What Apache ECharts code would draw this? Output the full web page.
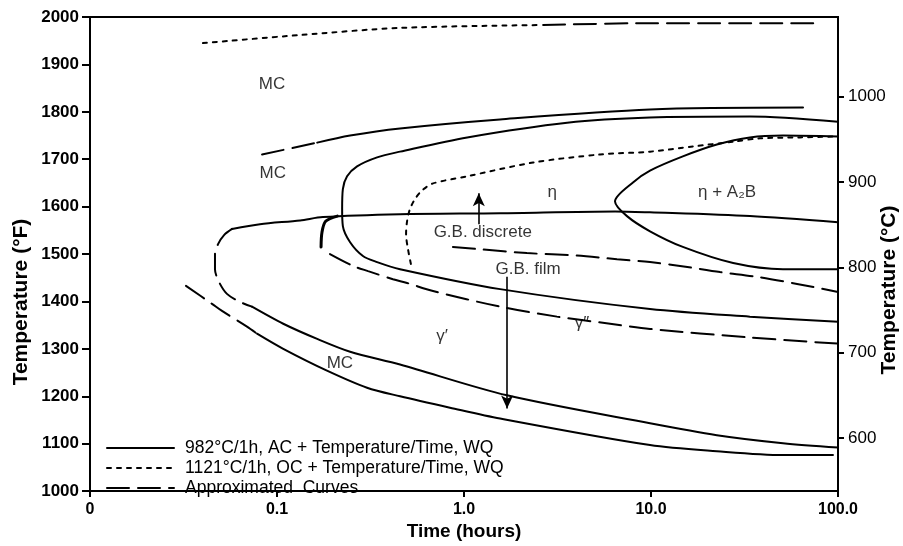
<!DOCTYPE html>
<html>
<head>
<meta charset="utf-8">
<script src="https://cdn.jsdelivr.net/npm/echarts@6/dist/echarts.min.js"></script>
<style>html,body{margin:0;padding:0;background:#fff;}#c{width:903px;height:546px;}</style>
</head>
<body>
<div id="c"></div>
<script>
// ---- axis ticks ----
const timeTicks = [0.01, 0.1, 1, 10, 100];
const timeTickLabels = ['0', '0.1', '1.0', '10.0', '100.0'];
const tempFMin = 1000, tempFMax = 2000, tempFStep = 100;
const tempCTicks = [600, 700, 800, 900, 1000];

// ---- legend names ----
const nameSolid = '982°C/1h, AC + Temperature/Time, WQ';
const nameDotted = '1121°C/1h, OC + Temperature/Time, WQ';
const nameDashed = 'Approximated  Curves';

// ---- solid curves [time h, temperature °F] ----
const solidTopMC = [[0.164,1735],[0.246,1750],[0.455,1765],[1.557,1784],[9.88,1805],[65,1809]];
const solidC = [[100,1779],[33.8,1790],[9.88,1788],[3.56,1777],[1.04,1746],[0.455,1716],[0.343,1704],[0.268,1685],[0.237,1664],[0.225,1637],[0.223,1595],[0.225,1559],[0.246,1525],[0.288,1496],[0.343,1483],[0.455,1468],[1.56,1426],[9.88,1384],[33.8,1368],[100,1357]];
const solidMid = [[0.0575,1553],[0.0811,1563],[0.133,1571],[0.176,1578],[0.455,1584],[1.56,1586],[6.42,1590],[9.88,1588],[33.8,1580],[100,1567]];
const solidEta = [[100,1748],[50.8,1750],[33.8,1746],[22.5,1731],[14.8,1706],[9.88,1676],[8.01,1651],[6.42,1611],[7.44,1580],[9.88,1548],[14.8,1515],[27.5,1481],[50.8,1468],[100,1468]];
const solidGammaP = [[0.0735,1389],[0.108,1353],[0.164,1321],[0.246,1294],[0.455,1267],[1.70,1202],[9.88,1143],[22.5,1118],[50.8,1101],[100,1092]];
const solidMCLow = [[0.0782,1332],[0.108,1300],[0.185,1254],[0.303,1218],[0.455,1200],[0.841,1176],[1.56,1153],[9.88,1097],[22.5,1084],[50.8,1076],[94,1076]];
const solidHook = [[0.172,1515],[0.174,1546],[0.182,1569],[0.21,1580]];

// ---- dotted curves ----
const dottedTop = [[0.0402,1945],[0.133,1962],[0.455,1977],[2.55,1983]];
const dottedC = [[0.52,1479],[0.502,1510],[0.49,1542],[0.496,1569],[0.514,1595],[0.547,1616],[0.596,1634],[0.683,1649],[1.04,1664],[2.34,1693],[5.34,1710],[9.88,1716],[16.8,1727],[27.5,1737],[38.3,1744],[62.6,1746],[100,1748]];

// ---- dashed (approximated) curves ----
const dashedTop = [[2.65,1983],[9.88,1987],[78.2,1987]];
const dashedMCUp = [[0.0832,1710],[0.164,1735]];
const dashedCUp = [[0.0575,1553],[0.0521,1540],[0.0484,1521],[0.0466,1500],[0.0466,1468],[0.049,1441],[0.054,1416],[0.0634,1399],[0.0735,1389]];
const dashedMCLow = [[0.0326,1433],[0.0449,1395],[0.0508,1380],[0.0691,1347],[0.0782,1332]];
const dashedGammaDP = [[0.192,1500],[0.255,1475],[0.307,1464],[0.417,1447],[0.496,1439],[0.683,1422],[1.56,1389],[3.14,1368],[6.04,1353],[9.88,1342],[33.8,1324],[100,1311]];
const dashedFilm = [[0.873,1515],[1.22,1510],[2.17,1502],[4.02,1497],[6.58,1489],[9.88,1483],[14.3,1475],[23.4,1462],[36.9,1452],[60.4,1437],[100,1420]];

// ---- annotations [text, time, °F] ----
const labelTexts = ['MC', 'MC', 'η', 'η + A₂B', 'G.B. discrete', 'G.B. film', 'γ′', 'γ″', 'MC'];
const labelTimes = [0.094, 0.095, 2.96, 25.5, 1.26, 2.2, 0.763, 4.28, 0.217];
const labelTemps = [1857, 1670, 1630, 1630, 1546, 1468, 1326, 1353, 1269];

// ---- arrows [time, fromF, toF] ----
const arrowDiscrete = [1.2, 1563, 1628];
const arrowFilm = [1.7, 1452, 1174];

const FONT = '"Liberation Sans", Arial, Helvetica, sans-serif';
const chart = echarts.init(document.getElementById('c'), null, {renderer: 'canvas'});

function lineSeries(name, data, type, width) {
  return {
    name: name, type: 'line', data: data, symbol: 'none', smooth: 0.3,
    xAxisIndex: 0, yAxisIndex: 0, silent: true, z: 3, color: '#000',
    lineStyle: {color: '#000', width: width || 2, type: type, cap: 'round'},
    emphasis: {disabled: true}
  };
}
const DASH = [22, 9];
const DOT = [4, 6];

const series = [
  lineSeries(nameSolid, solidTopMC, 'solid'),
  lineSeries(nameSolid, solidC, 'solid'),
  lineSeries(nameSolid, solidMid, 'solid'),
  lineSeries(nameSolid, solidEta, 'solid'),
  lineSeries(nameSolid, solidGammaP, 'solid'),
  lineSeries(nameSolid, solidMCLow, 'solid'),
  lineSeries(nameSolid, solidHook, 'solid', 3),
  lineSeries(nameDotted, dottedTop, DOT),
  lineSeries(nameDotted, dottedC, DOT),
  lineSeries(nameDashed, dashedTop, DASH),
  lineSeries(nameDashed, dashedMCUp, DASH),
  lineSeries(nameDashed, dashedCUp, DASH),
  lineSeries(nameDashed, dashedMCLow, DASH),
  lineSeries(nameDashed, dashedGammaDP, DASH),
  lineSeries(nameDashed, dashedFilm, DASH),
  {
    type: 'scatter', silent: true, symbolSize: 0, z: 4,
    data: labelTexts.map((t, i) => ({name: t, value: [labelTimes[i], labelTemps[i]]})),
    label: {show: true, position: 'inside', formatter: '{b}', color: '#000', fontSize: 17, fontFamily: FONT},
    emphasis: {disabled: true}
  },
  {
    type: 'line', data: [], silent: true, symbol: 'none',
    markLine: {
      silent: true, symbol: ['none', 'arrow'], symbolSize: [9, 13],
      label: {show: false},
      lineStyle: {color: '#000', width: 1.6, type: 'solid'},
      emphasis: {disabled: true},
      data: [
        [{coord: [arrowDiscrete[0], arrowDiscrete[1]]}, {coord: [arrowDiscrete[0], arrowDiscrete[2]]}],
        [{coord: [arrowFilm[0], arrowFilm[1]]}, {coord: [arrowFilm[0], arrowFilm[2]]}]
      ]
    }
  }
];

const option = {
  animation: false,
  backgroundColor: '#fff',
  textStyle: {fontFamily: FONT},
  grid: {left: 90, right: 65, top: 17, bottom: 53, show: true, borderColor: '#000', borderWidth: 2, backgroundColor: 'transparent'},
  legend: {
    data: [nameSolid, nameDotted, nameDashed],
    orient: 'vertical', left: 106, top: 438, padding: 0,
    itemWidth: 67, itemHeight: 14, itemGap: 0,
    selectedMode: false,
    itemStyle: {opacity: 0},
    textStyle: {fontSize: 17.5, color: '#000', fontFamily: FONT, padding: [0, 0, 0, 6], lineHeight: 20}
  },
  xAxis: {
    type: 'log', logBase: 10, min: 0.01, max: 100,
    name: 'Time (hours)', nameLocation: 'middle', nameGap: 30,
    nameTextStyle: {fontSize: 19, fontWeight: 'bold', color: '#000', fontFamily: FONT},
    axisLine: {show: true, onZero: false, lineStyle: {color: '#000', width: 2}},
    axisTick: {show: true, length: 6, lineStyle: {color: '#000', width: 2}, customValues: timeTicks},
    minorTick: {show: false},
    axisLabel: {
      customValues: timeTicks, margin: 10, fontSize: 16, fontWeight: 'bold', color: '#000', fontFamily: FONT,
      formatter: function (v) {
        for (let i = 0; i < timeTicks.length; i++) {
          if (Math.abs(Math.log10(v) - Math.log10(timeTicks[i])) < 1e-6) return timeTickLabels[i];
        }
        return '';
      }
    },
    splitLine: {show: false}
  },
  yAxis: [
    {
      type: 'value', min: tempFMin, max: tempFMax, interval: tempFStep, position: 'left',
      axisLine: {show: true, lineStyle: {color: '#000', width: 2}},
      axisTick: {show: true, length: 8, lineStyle: {color: '#000', width: 2}},
      axisLabel: {margin: 11, fontSize: 17, fontWeight: 'bold', color: '#000', fontFamily: FONT,
                  formatter: function (v) { return String(v); }},
      splitLine: {show: false}
    },
    {
      type: 'value', min: (tempFMin - 32) * 5 / 9, max: (tempFMax - 32) * 5 / 9, position: 'right',
      axisLine: {show: true, lineStyle: {color: '#000', width: 2}},
      axisTick: {show: true, length: 6, lineStyle: {color: '#000', width: 2}, customValues: tempCTicks},
      axisLabel: {customValues: tempCTicks, margin: 10, fontSize: 17, color: '#000', fontFamily: FONT,
                  formatter: function (v) { return String(Math.round(v)); }},
      splitLine: {show: false}
    }
  ],
  graphic: [
    {type: 'text', x: 21, y: 302, rotation: Math.PI / 2, z: 10,
     style: {text: 'Temperature (°F)', fontSize: 21, fontWeight: 'bold', fontFamily: FONT, fill: '#000', align: 'center', verticalAlign: 'middle'}},
    {type: 'text', x: 889, y: 290, rotation: Math.PI / 2, z: 10,
     style: {text: 'Temperature (°C)', fontSize: 21, fontWeight: 'bold', fontFamily: FONT, fill: '#000', align: 'center', verticalAlign: 'middle'}}
  ],
  series: series
};
chart.setOption(option);
</script>
</body>
</html>
